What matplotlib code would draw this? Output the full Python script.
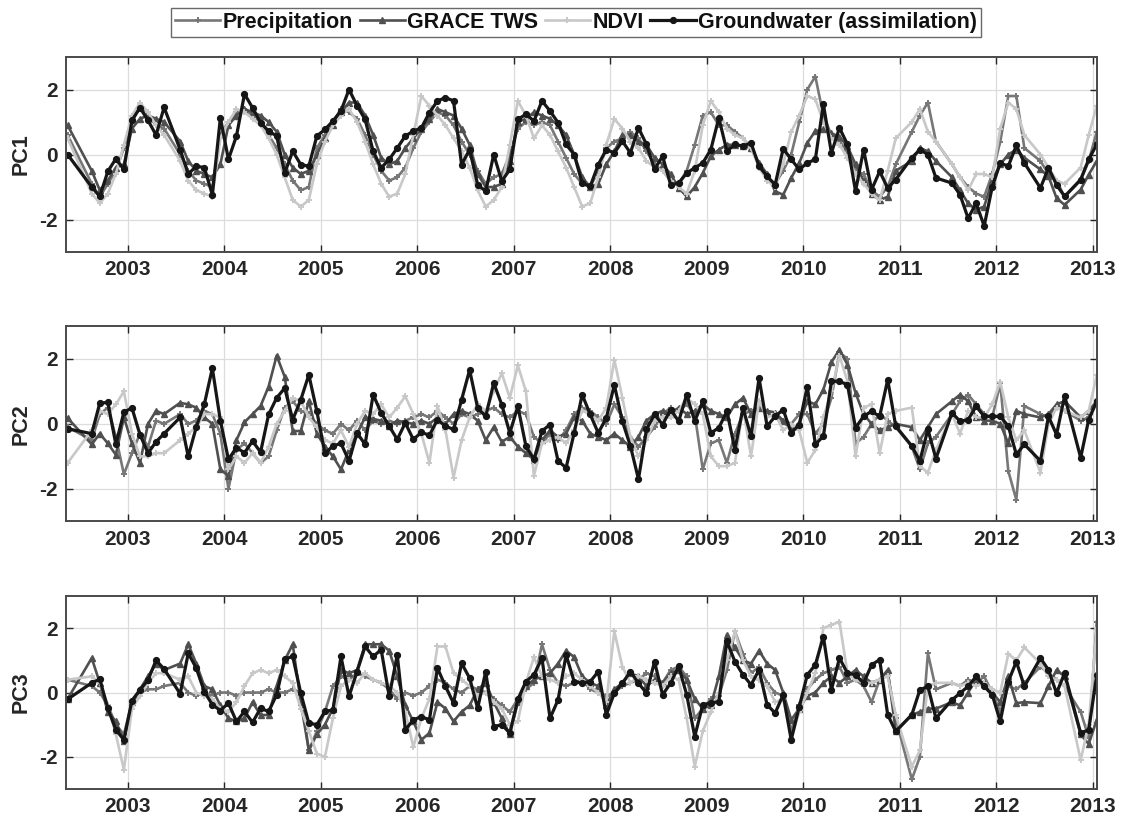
import matplotlib
matplotlib.use('Agg')
import matplotlib.pyplot as plt

plt.rcParams['font.family'] = ['Liberation Sans', 'DejaVu Sans']
plt.rcParams['font.weight'] = 'bold'

# ---------------- data ----------------
start_month = (2002, 5)
end_month = (2013, 1)
missing_months = ['2002-06', '2002-07', '2003-06', '2011-01', '2011-06', '2012-05', '2012-10']

series_names = ['Precipitation', 'GRACE TWS', 'NDVI', 'Groundwater (assimilation)']
panel_labels = ['PC1', 'PC2', 'PC3']
year_ticks = list(range(2003, 2014))
y_ticks = [-2, 0, 2]

# ---- PC1 ----
pc1_precip = [0.60, -0.90, -1.30, -0.90, -0.50, 0.20,
              1.00, 1.50, 1.20, 0.90, 0.80, 0.00, -0.50, -0.80, -0.90, -1.00, 0.60,
              1.00, 1.30, 1.40, 1.20, 1.00, 0.60, 0.20, -0.30, -0.80, -1.10, -1.00, 0.20,
              0.60, 1.00, 1.40, 1.30, 1.10, 0.60, 0.00, -0.50, -0.80, -0.70, -0.40, 0.20,
              0.70, 1.00, 1.30, 1.20, 0.90, 0.40, 0.00, -0.50, -0.90, -0.70, -0.60, 0.00,
              0.80, 1.00, 0.90, 1.00, 0.90, 0.40, -0.10, -0.60, -0.90, -1.00, -0.50, 0.20,
              0.40, 0.50, 0.70, 0.50, 0.10, -0.30, -0.50, -0.80, -0.90, -0.50, 0.30, 1.20,
              1.30, 0.90, 0.90, 0.70, 0.50, 0.20, -0.30, -0.70, -0.90, -0.50, 0.00, 1.00,
              2.00, 2.40, 1.20, 0.60, 0.40, 0.10, -0.50, -0.60, -1.10, -1.30, -1.00, -0.30,
              0.70, 1.20, 1.60, 0.40, -0.30, -0.70, -1.00, -1.20, -1.30, -0.60,
              0.40, 1.80, 1.80, 0.20, -0.20, -0.60, -0.80, -1.30, -0.80, -0.20,
              0.70]
pc1_grace = [0.90, -0.50, -1.10, -0.80, -0.40, -0.30,
             0.80, 1.10, 1.20, 1.10, 1.00, 0.40, -0.20, -0.50, -0.60, -0.70, -0.30,
             0.90, 1.20, 1.40, 1.30, 1.20, 1.00, 0.70, 0.00, -0.40, -0.60, -0.50, 0.00,
             0.50, 0.90, 1.30, 1.60, 1.60, 1.20, 0.60, -0.10, -0.30, -0.20, 0.20, 0.50,
             0.80, 1.10, 1.40, 1.30, 1.20, 0.80, 0.30, -0.60, -1.00, -1.00, -0.90, -0.20,
             1.00, 1.10, 1.30, 1.20, 1.10, 0.90, 0.60, 0.00, -0.70, -1.00, -0.90, -0.30,
             0.10, 0.60, 0.60, 0.40, 0.30, -0.10, -0.30, -0.60, -1.03, -1.29, -1.00, -0.57,
             -0.05, 0.15, 0.30, 0.30, 0.25, 0.20, -0.26, -0.60, -1.13, -1.24, -0.72, -0.26,
             0.36, 0.72, 0.77, 0.65, 0.55, 0.25, -0.30, -0.80, -1.20, -1.40, -1.30, -0.50,
             -0.20, 0.20, 0.10, -0.20, -0.70, -1.10, -1.50, -1.70, -1.60, -0.80,
             -0.30, 0.00, 0.15, -0.10, -0.46, -0.67, -1.34, -1.55, -1.08, -0.62,
             -0.20]
pc1_ndvi = [0.50, -1.20, -1.50, -1.20, -0.60, 0.30,
            1.20, 1.60, 1.30, 0.90, 0.60, -0.20, -0.80, -1.10, -1.20, -1.30, 0.50,
            1.00, 1.40, 1.30, 1.10, 0.90, 0.50, 0.00, -0.70, -1.40, -1.60, -1.40, -0.30,
            0.40, 0.90, 1.20, 1.40, 1.00, 0.40, -0.30, -0.90, -1.30, -1.20, -0.60, 0.60,
            1.80, 1.50, 1.20, 0.90, 0.50, 0.10, -0.40, -1.10, -1.60, -1.40, -1.00, 0.30,
            1.65, 1.20, 0.50, 0.90, 0.60, 0.10, -0.40, -1.00, -1.60, -1.50, -0.70, 0.30,
            1.10, 0.80, 0.40, 0.20, -0.20, -0.40, -0.50, -0.80, -1.00, -1.20, -0.50, 0.90,
            1.65, 1.30, 0.80, 0.60, 0.50, 0.20, -0.40, -0.80, -1.00, -0.30, 0.70, 1.20,
            1.80, 1.70, 1.00, 0.50, 0.30, -0.10, -0.60, -0.90, -1.20, -1.40, -0.50, 0.50,
            1.00, 1.40, 0.70, 0.40, -0.30, -0.70, -1.10, -0.60, -0.60, -0.70,
            0.80, 1.60, 1.40, 0.60, 0.00, -0.40, -0.80, -0.90, -0.40, 0.60,
            1.50]
pc1_gw = [0.00, -1.00, -1.29, -0.52, -0.13, -0.46,
          1.05, 1.44, 1.05, 0.60, 1.45, 0.15, -0.60, -0.36, -0.40, -1.24, 1.13,
          -0.15, 0.57, 1.86, 1.44, 0.98, 0.72, 0.57, -0.57, 0.10, -0.31, -0.36, 0.57,
          0.77, 1.03, 1.34, 2.00, 1.50, 1.08, 0.10, -0.41, -0.15, 0.20, 0.57, 0.72,
          0.82, 1.29, 1.65, 1.75, 1.65, -0.31, 0.15, -0.93, -1.13, 0.00, -0.82, -0.46,
          1.08, 1.24, 1.03, 1.65, 1.34, 0.98, 0.31, 0.00, -0.88, -0.98, -0.31, 0.15,
          0.05, 0.41, 0.05, 0.82, 0.31, -0.46, -0.05, -0.93, -0.88, -0.57, -0.41, -0.26,
          0.15, 1.13, 0.10, 0.31, 0.26, 0.36, -0.36, -0.67, -0.93, 0.18, -0.15, -0.46,
          -0.26, -0.15, 1.55, 0.05, 0.82, 0.31, -1.13, 0.15, -1.08, -0.52, -1.03, -0.77,
          -0.10, 0.15, 0.00, -0.72, -0.88, -1.24, -1.96, -1.50, -2.20, -1.00,
          -0.26, -0.36, 0.28, -0.26, -1.03, -0.41, -0.93, -1.29, -0.77, -0.15,
          0.31]

# ---- PC2 ----
pc2_precip = [-0.10, -0.50, 0.30, 0.50, -0.40, -1.55,
              -0.90, -0.30, -0.70, 0.10, 0.00, 0.30, 0.00, 0.10, 0.40, 0.30, -0.30,
              -2.00, -0.80, -0.60, -0.90, -1.20, -1.00, -0.20, 0.50, 0.70, 0.40, 0.30, 0.00,
              -0.20, -0.30, 0.00, -0.20, 0.10, -0.20, 0.10, 0.00, 0.10, 0.00, 0.10, 0.20,
              0.30, 0.20, 0.40, 0.20, 0.00, 0.30, 0.20, 0.30, 0.40, 0.50, 0.30, 0.20,
              0.40, 0.30, -0.40, -0.60, -0.30, -0.50, -0.20, 0.30, 0.50, 0.40, 0.20, 0.00,
              0.60, 0.20, -0.40, -0.70, -0.40, -0.10, 0.30, 0.50, 0.40, 0.60, 0.30, -1.40,
              -0.60, -0.50, -1.20, -0.30, 0.30, 0.40, 0.50, 0.30, 0.20, 0.10, 0.00, 0.30,
              0.30, -0.30, 0.00, 0.80, 2.20, 2.00, -0.60, -0.40, 0.00, 0.30, 0.10, -0.10,
              -0.70, -1.40, -0.60, -0.40, 0.30, 0.70, 0.90, 0.60, 0.30, 0.20,
              1.25, -1.45, -2.34, 0.55, 0.30, 0.20, 0.50, 0.40, 0.10, 0.20,
              0.70]
pc2_grace = [0.18, -0.63, -0.30, -0.60, -0.95, 0.20,
             -0.60, -1.20, 0.00, 0.40, 0.30, 0.65, 0.60, 0.50, 0.20, 0.00, -1.40,
             -1.60, -0.50, 0.05, 0.30, 0.55, 1.15, 2.10, 1.45, -0.22, -0.22, 0.70, -0.30,
             -0.70, -1.00, -1.40, -0.80, -0.30, 0.20, 0.15, 0.10, -0.05, 0.10, 0.05, 0.00,
             0.10, 0.00, 0.20, 0.00, 0.30, 0.40, 0.30, 0.10, -0.50, -0.10, -0.55, -0.40,
             -0.70, -0.90, -1.10, -0.50, -0.20, -0.40, -0.30, 0.20, 0.10, -0.30, -0.40, -0.50,
             -0.30, -0.50, -0.70, -0.40, 0.10, 0.30, 0.40, 0.30, 0.50, 0.30, 0.40, 0.60,
             0.40, 0.30, 0.20, 0.60, 0.80, 0.30, 0.50, 0.40, 0.35, 0.10, -0.20, 0.00,
             0.70, 0.60, 1.05, 1.90, 2.28, 1.82, 0.95, 0.30, 0.00, -0.20, -0.10, 0.00,
             -0.10, -0.50, -0.10, 0.30, 0.70, 0.90, 0.70, 0.20, 0.10, 0.10,
             0.00, -0.60, 0.40, 0.30, 0.20, 0.30, 0.60, 0.70, 0.20, 0.40,
             0.70]
pc2_ndvi = [-1.20, -0.20, 0.40, 0.30, 0.60, 1.00,
            -0.30, -1.00, -1.00, -0.90, -0.90, -0.50, -0.30, -0.10, 0.30, 0.30, 0.20,
            -1.40, -1.00, -1.20, -0.90, -1.20, -0.70, 0.00, 0.40, 0.80, 0.70, 0.20, -0.10,
            -0.50, -0.60, -0.20, -0.70, 0.00, 0.40, 0.30, 0.60, 0.20, 0.50, 0.85, 0.30,
            -0.30, -1.20, 0.55, -0.20, -1.65, -0.50, 0.20, 0.60, 0.40, 1.00, 1.56, 0.80,
            1.80, 1.00, -1.60, -0.60, -0.50, -0.40, -0.60, -0.20, 0.40, 0.30, 0.10, 0.50,
            1.97, 0.80, -0.40, -1.00, -0.50, 0.10, 0.20, 0.20, 0.40, 0.80, 0.60, 0.30,
            -1.00, -1.30, -1.30, -1.20, 0.50, -1.00, 0.70, 0.20, 0.30, -0.20, 0.00, -0.20,
            -1.20, -0.80, 0.20, 1.00, 2.10, 1.30, -1.00, 0.50, 0.60, -0.90, 0.30, 0.40,
            0.50, -1.30, -1.50, -0.80, 0.30, -0.30, 0.40, 0.20, 0.20, 0.60,
            1.30, 0.20, -0.50, -0.20, -1.50, 0.00, 0.50, 0.40, 0.20, 0.40,
            1.50]
pc2_gw = [-0.15, -0.30, 0.64, 0.66, -0.63, 0.36,
          0.49, -0.33, -0.90, -0.55, -0.30, 0.20, -1.00, -0.10, 0.60, 1.71, 0.10,
          -1.09, -0.73, -0.89, -0.53, -0.87, 0.29, 0.80, 1.10, 0.13, 0.74, 1.51, 0.39,
          -0.91, -0.68, -0.60, -1.14, -0.28, -0.63, 0.90, 0.34, -0.07, -0.48, 0.03, -0.48,
          -0.26, -0.35, 0.13, -0.07, -0.17, 0.74, 1.66, 0.49, 0.23, 1.26, 0.59, -0.28,
          0.54, -0.68, -1.09, -0.22, -0.02, -1.14, -1.35, -0.28, 0.90, 0.29, -0.28, 0.18,
          1.20, 0.08, -0.68, -1.70, -0.17, 0.29, -0.02, 0.44, 0.08, 0.90, 0.08, 0.69,
          -0.28, -0.12, 0.39, -0.79, 0.49, -0.38, 1.41, -0.07, 0.23, 0.44, -0.28, -0.02,
          1.15, -0.63, -0.38, 1.31, 1.31, 1.20, -0.12, 0.23, 0.39, 0.23, 1.36, -0.07,
          -0.68, -1.14, -0.17, -1.07, 0.34, 0.08, 0.13, 0.54, 0.23, 0.23,
          0.23, -0.07, -0.94, -0.63, -1.14, 0.23, -0.33, 0.85, -1.04, 0.13,
          0.69]

# ---- PC3 ----
pc3_precip = [0.40, 0.20, 0.00, -0.40, -1.00, -1.30,
              -0.30, 0.00, 0.10, 0.10, 0.20, 0.30, 0.00, -0.10, 0.00, -0.10, 0.00,
              0.00, -0.10, 0.00, 0.00, 0.00, 0.10, 0.00, 0.00, 0.10, 0.00, -1.80, -1.20,
              -0.60, 0.20, 0.50, 0.40, 0.60, 0.50, 0.40, 0.30, 0.10, -0.20, 0.00, -0.10,
              0.00, 0.20, 0.40, 0.30, 0.10, 0.00, 0.20, 0.10, 0.00, -0.20, -0.40, -0.60,
              -0.20, 0.10, 0.30, 1.50, 0.70, 0.30, 0.20, 0.30, 0.40, 0.10, 0.00, -0.10,
              0.00, 0.20, 0.30, 0.40, 0.60, 0.50, 0.30, 0.70, 0.80, 0.50, -0.80, -0.50,
              -0.20, -0.10, 0.70, 1.90, 1.20, 0.60, 0.80, 0.30, 0.00, -0.10, -1.20, -0.40,
              0.10, 0.40, 0.60, 0.70, 0.80, 0.30, 0.40, 0.20, -0.30, 0.40, 0.60, -0.80,
              -2.70, -2.00, 1.22, 0.10, 0.30, 0.20, 0.40, 0.30, 0.50, 0.00,
              -0.60, 0.20, 0.10, 0.30, 0.80, 0.60, 0.40, 0.20, -0.60, -1.40,
              2.20]
pc3_grace = [-0.20, 1.07, 0.30, -0.60, -0.90, -1.50,
             -0.30, 0.10, 0.50, 0.90, 0.70, 0.90, 1.50, 0.90, 0.20, 0.10, -0.40,
             -0.80, -0.90, -0.80, -0.30, -0.70, -0.70, 0.20, 1.00, 1.50, -0.30, -1.80, -1.30,
             -1.00, -0.50, 0.70, 0.60, 0.70, 1.50, 1.50, 1.50, 1.30, 0.50, -0.40, -0.90,
             -1.47, -1.26, -0.30, -0.50, -0.90, -0.60, -0.40, 0.10, 0.30, -0.30, -0.80, -1.30,
             -0.30, 0.20, 0.40, 0.50, 0.60, 0.90, 1.30, 1.10, 0.50, 0.30, 0.20, -0.40,
             0.10, 0.30, 0.60, 0.50, 0.20, 0.40, 0.30, 0.60, 0.70, 0.40, -0.20, -0.50,
             -0.40, 0.50, 1.80, 1.40, 1.00, 0.90, 1.30, 0.90, 0.70, 0.00, -0.85, -0.50,
             -0.10, 0.00, 0.30, 0.50, 0.30, 0.50, 0.70, 0.50, 0.30, 0.40, 0.70, -1.20,
             -0.70, -0.60, -0.50, -0.50, -0.30, -0.40, 0.00, 0.40, 0.30, 0.00,
             -0.30, 0.50, -0.33, -0.30, -0.33, 0.20, 0.70, 0.50, -1.30, -1.60,
             -0.85]
pc3_ndvi = [0.40, 0.50, 0.30, -0.40, -1.30, -2.40,
            -0.50, -0.10, 0.30, 0.60, 0.60, 0.40, 0.50, 0.00, -0.10, -0.20, -0.50,
            -0.60, -0.30, 0.20, 0.60, 0.70, 0.60, 0.70, 0.50, 0.30, -0.50, -1.20, -1.90,
            -2.00, -0.80, 0.20, 0.40, 0.30, 0.60, 0.40, 0.30, 0.20, 0.00, -0.60, -1.70,
            -0.80, -0.20, 1.43, 1.43, 0.60, 0.40, 0.20, -0.10, 0.00, -0.30, -0.50, -1.00,
            -0.90, 0.30, 1.10, 0.50, 0.40, 0.30, 0.50, 0.60, 0.40, 0.20, 0.00, -0.30,
            1.90, 0.80, 0.30, 0.50, 0.40, 0.30, 0.20, 0.50, 0.40, -0.80, -2.30, -1.20,
            -0.60, 0.00, 1.00, 1.90, 1.00, 0.50, 0.40, 0.20, -0.30, -0.20, -1.40, -0.60,
            0.00, 0.60, 2.00, 2.10, 2.20, 0.60, 0.40, 0.30, 0.30, 0.40, 0.50, -0.70,
            -2.30, -1.80, 0.20, 0.30, 0.30, 0.20, 0.30, 0.20, 0.30, 0.10,
            0.00, 1.20, 1.00, 1.40, 0.90, 0.50, 0.40, 0.20, -2.10, -1.00,
            2.00]
pc3_gw = [-0.21, 0.30, 0.41, -0.49, -1.16, -1.47,
          -0.25, 0.08, 0.39, 1.00, 0.73, -0.04, 1.22, 0.76, 0.03, -0.38, -0.56,
          -0.33, -0.90, -0.59, -0.93, -0.49, -0.59, -0.07, 1.04, 1.12, -0.02, -0.95, -1.00,
          -0.59, -0.54, 1.12, -0.12, 0.65, 1.43, 1.12, 1.33, -0.12, 1.17, -1.16, -0.85,
          -0.75, -0.85, 0.76, 0.19, -0.33, 0.91, 0.45, -0.49, 0.65, -1.06, -1.00, -1.26,
          -0.21, 0.34, 0.55, 1.07, -0.80, -0.23, 1.17, 0.34, 0.29, 0.34, 0.65, -0.69,
          -0.02, 0.29, 0.65, 0.29, -0.02, 0.96, -0.07, 0.29, 0.81, -0.07, -1.37, -0.38,
          -0.33, -0.28, 1.59, 0.96, 0.55, 0.24, 0.70, -0.38, -0.64, -0.07, -1.47, -0.44,
          0.55, 0.86, 1.74, 0.08, 1.07, 0.60, 0.55, 0.29, 0.86, 1.02, -0.69, -1.21,
          -0.69, 0.08, 0.19, -0.80, -0.23, -0.02, 0.19, 0.50, 0.19, -0.07,
          -0.90, 0.34, 0.96, 0.19, 1.07, 0.70, -0.02, 0.60, -1.26, -1.16,
          0.55]

# ---------------- time axis ----------------
dates = []
y, m = start_month
while (y, m) <= end_month:
    if '%04d-%02d' % (y, m) not in missing_months:
        dates.append(y + (m - 0.5) / 12.0)
    m += 1
    if m > 12:
        m = 1
        y += 1

panels = [
    (pc1_precip, pc1_grace, pc1_ndvi, pc1_gw),
    (pc2_precip, pc2_grace, pc2_ndvi, pc2_gw),
    (pc3_precip, pc3_grace, pc3_ndvi, pc3_gw),
]
for p in panels:
    for s in p:
        assert len(s) == len(dates), (len(s), len(dates))

# ---------------- styles ----------------
styles = [
    dict(color='#777777', marker='+', markersize=4.5, linewidth=1.9, markeredgewidth=1.4),
    dict(color='#505050', marker='^', markersize=3.8, linewidth=1.9),
    dict(color='#c8c8c8', marker='+', markersize=4.5, linewidth=1.9, markeredgewidth=1.4),
    dict(color='#161616', marker='o', markersize=4.2, linewidth=2.3),
]
axis_color = '#262626'

fig = plt.figure(figsize=(11.24, 8.25), dpi=100)
rects = [
    [0.0587, 0.6945, 0.9173, 0.2364],
    [0.0587, 0.3680, 0.9173, 0.2364],
    [0.0587, 0.0436, 0.9173, 0.2340],
]

handles = None
for ax_i, (rect, data, lab) in enumerate(zip(rects, panels, panel_labels)):
    ax = fig.add_axes(rect)
    hs = []
    for s, st, name in zip(data, styles, series_names):
        h, = ax.plot(dates, s, label=name, **st)
        hs.append(h)
    if handles is None:
        handles = hs
    ax.set_xlim(dates[0] - 0.017, dates[-1] + 0.003)
    ax.set_ylim(-3, 3)
    ax.set_xticks(year_ticks)
    ax.set_xticklabels([str(v) for v in year_ticks])
    ax.set_yticks(y_ticks)
    ax.set_yticklabels([str(v) for v in y_ticks])
    ax.grid(True, color='#dcdcdc', linewidth=0.9)
    ax.set_axisbelow(True)
    ax.tick_params(direction='in', top=True, right=True, length=5, width=1.0,
                   colors=axis_color, labelsize=15, pad=6)
    for lbl in ax.get_xticklabels() + ax.get_yticklabels():
        lbl.set_fontweight('bold')
        lbl.set_color(axis_color)
    for sp in ax.spines.values():
        sp.set_color('#4a4a4a')
        sp.set_linewidth(1.4)
    ax.set_ylabel(lab, fontsize=15.5, fontweight='bold', color=axis_color, labelpad=5)

leg = fig.legend(handles, series_names, loc='center', bbox_to_anchor=(0.5125, 0.9727),
                 ncol=4, frameon=True, fancybox=False, fontsize=15.5,
                 handlelength=2.1, handletextpad=0.12, columnspacing=0.3,
                 borderpad=0.2, borderaxespad=0.0)
leg.get_frame().set_edgecolor('#444444')
leg.get_frame().set_linewidth(1.0)
for t in leg.get_texts():
    t.set_fontweight('bold')
    t.set_color('#111111')

fig.savefig('out.png', dpi=100)
